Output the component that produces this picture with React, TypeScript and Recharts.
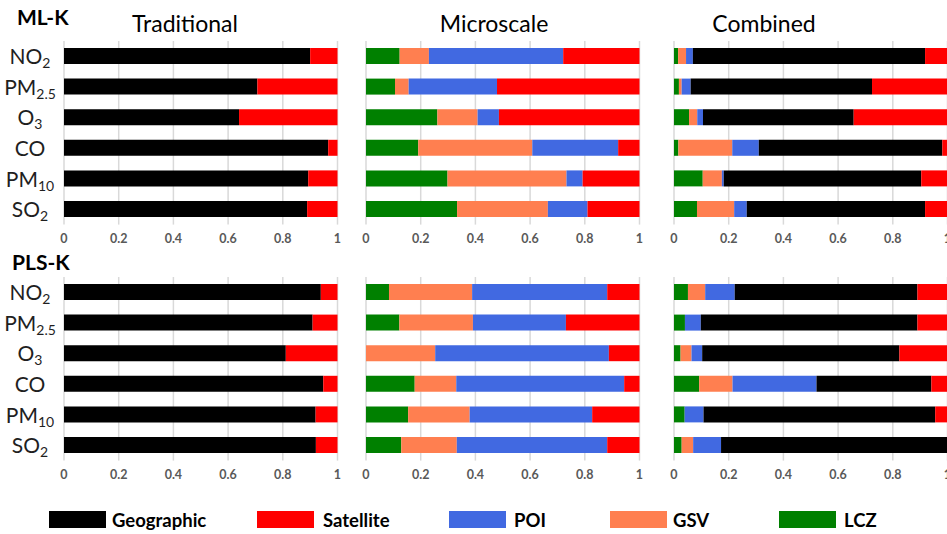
import React from 'react';
import { BarChart, Bar, XAxis, YAxis, CartesianGrid } from 'recharts';

// categories (top to bottom)
const pollutants = ['NO2', 'PM2.5', 'O3', 'CO', 'PM10', 'SO2'];
const pollutantBase = ['NO', 'PM', 'O', 'CO', 'PM', 'SO'];
const pollutantSub = ['2', '2.5', '3', '', '10', '2'];
const xTicks = [0, 0.2, 0.4, 0.6, 0.8, 1];

// ML-K
const mlTradGeographic = [0.9, 0.707, 0.64, 0.966, 0.893, 0.889];
const mlTradSatellite = [0.1, 0.293, 0.36, 0.034, 0.107, 0.111];

const mlMicroLCZ = [0.123, 0.106, 0.261, 0.191, 0.298, 0.333];
const mlMicroGSV = [0.107, 0.05, 0.147, 0.417, 0.435, 0.332];
const mlMicroPOI = [0.491, 0.323, 0.078, 0.314, 0.059, 0.145];
const mlMicroSatellite = [0.279, 0.521, 0.514, 0.078, 0.208, 0.19];

const mlCombLCZ = [0.015, 0.018, 0.055, 0.016, 0.105, 0.084];
const mlCombGSV = [0.029, 0.01, 0.03, 0.197, 0.07, 0.136];
const mlCombPOI = [0.025, 0.033, 0.021, 0.097, 0.007, 0.046];
const mlCombGeographic = [0.849, 0.663, 0.551, 0.671, 0.722, 0.652];
const mlCombSatellite = [0.082, 0.276, 0.343, 0.019, 0.096, 0.082];

// PLS-K
const plsTradGeographic = [0.939, 0.909, 0.811, 0.948, 0.92, 0.921];
const plsTradSatellite = [0.061, 0.091, 0.189, 0.052, 0.08, 0.079];

const plsMicroLCZ = [0.084, 0.122, 0, 0.178, 0.154, 0.129];
const plsMicroGSV = [0.304, 0.269, 0.253, 0.152, 0.225, 0.203];
const plsMicroPOI = [0.494, 0.34, 0.635, 0.614, 0.448, 0.55];
const plsMicroSatellite = [0.118, 0.269, 0.112, 0.056, 0.173, 0.118];

const plsCombLCZ = [0.051, 0.04, 0.024, 0.092, 0.039, 0.028];
const plsCombGSV = [0.063, 0, 0.04, 0.122, 0, 0.042];
const plsCombPOI = [0.108, 0.058, 0.039, 0.307, 0.069, 0.102];
const plsCombGeographic = [0.668, 0.792, 0.721, 0.42, 0.847, 0.828];
const plsCombSatellite = [0.11, 0.11, 0.176, 0.059, 0.045, 0];

const COLORS: Record<string, string> = {
  Geographic: '#000000',
  Satellite: '#FF0000',
  POI: '#4169E1',
  GSV: '#FF7F50',
  LCZ: '#008000',
};
const STACK_ORDER = ['LCZ', 'GSV', 'POI', 'Geographic', 'Satellite'];
const FONT = 'Lato, "Open Sans", sans-serif';

const build = (series: Record<string, number[]>) =>
  pollutants.map((name, i) => {
    const row: Record<string, any> = { name, idx: i };
    Object.keys(series).forEach((k) => (row[k] = series[k][i]));
    return row;
  });

const PollutantTick = (props: any) => {
  const { x, y, payload } = props;
  const i = pollutants.indexOf(payload.value);
  return (
    <text x={x - 26} y={y + 8} textAnchor="middle" fontSize={21} fill="#1f1f1f" fontFamily={FONT}>
      {pollutantBase[i]}
      {pollutantSub[i] && (
        <tspan fontSize={14} dy={4}>
          {pollutantSub[i]}
        </tspan>
      )}
    </text>
  );
};

const PLOT_W = 273.5;
const PLOT_H = 183.6;
const PAD = 12;
const AXIS_H = 30;

interface PanelProps {
  left: number;
  top: number;
  data: Record<string, any>[];
  showY?: boolean;
}

const Panel: React.FC<PanelProps> = ({ left, top, data, showY }) => {
  const keys = STACK_ORDER.filter((k) => k in data[0]);
  const yW = showY ? 64 : 0;
  const width = yW + PLOT_W + PAD * (showY ? 1 : 2);
  return (
    <div style={{ position: 'absolute', left: showY ? left - 64 : left - PAD, top }}>
      <BarChart
        width={width}
        height={PLOT_H + AXIS_H}
        data={data}
        layout="vertical"
        margin={{ top: 0, right: PAD, bottom: 0, left: showY ? 0 : PAD }}
        style={{ fontFamily: FONT }}
      >
        <CartesianGrid horizontal={false} stroke="#d9d9d9" strokeWidth={1.5} />
        <XAxis
          type="number"
          domain={[0, 1]}
          ticks={xTicks}
          interval={0}
          axisLine={false}
          tickLine={false}
          tickMargin={4}
          height={AXIS_H}
          tick={{ fontSize: 12.5, fontWeight: 'bold', fill: '#595959' }}
        />
        <YAxis
          type="category"
          dataKey="name"
          hide={!showY}
          width={yW}
          axisLine={false}
          tickLine={false}
          tick={<PollutantTick />}
          interval={0}
        />
        {keys.map((k) => (
          <Bar key={k} dataKey={k} stackId="a" fill={COLORS[k]} barSize={16} isAnimationActive={false} />
        ))}
      </BarChart>
    </div>
  );
};

const App: React.FC = () => {
  const mlTrad = build({ Geographic: mlTradGeographic, Satellite: mlTradSatellite });
  const mlMicro = build({ LCZ: mlMicroLCZ, GSV: mlMicroGSV, POI: mlMicroPOI, Satellite: mlMicroSatellite });
  const mlComb = build({
    LCZ: mlCombLCZ, GSV: mlCombGSV, POI: mlCombPOI, Geographic: mlCombGeographic, Satellite: mlCombSatellite,
  });
  const plsTrad = build({ Geographic: plsTradGeographic, Satellite: plsTradSatellite });
  const plsMicro = build({ LCZ: plsMicroLCZ, GSV: plsMicroGSV, POI: plsMicroPOI, Satellite: plsMicroSatellite });
  const plsComb = build({
    LCZ: plsCombLCZ, GSV: plsCombGSV, POI: plsCombPOI, Geographic: plsCombGeographic, Satellite: plsCombSatellite,
  });

  const cols = [64, 366.3, 674];
  const rows = [40.7, 276.7];

  const legend = [
    { k: 'Geographic', rx: 49, tx: 112 },
    { k: 'Satellite', rx: 257, tx: 323 },
    { k: 'POI', rx: 449, tx: 514 },
    { k: 'GSV', rx: 610, tx: 673 },
    { k: 'LCZ', rx: 779, tx: 844 },
  ];

  return (
    <div
      style={{
        position: 'absolute', left: 0, top: 0, width: 947, height: 534,
        overflow: 'hidden', background: '#fff', fontFamily: FONT,
      }}
    >
      <svg width={947} height={534} style={{ position: 'absolute', left: 0, top: 0 }}>
        <text x={17} y={25} fontSize={21} fontWeight="bold" fill="#000" fontFamily={FONT}>ML-K</text>
        <text x={12} y={270} fontSize={21} fontWeight="bold" fill="#000" fontFamily={FONT}>PLS-K</text>
        <text x={185} y={32} textAnchor="middle" fontSize={23} fill="#000" fontFamily={FONT}>Traditional</text>
        <text x={494} y={32} textAnchor="middle" fontSize={23} fill="#000" fontFamily={FONT}>Microscale</text>
        <text x={764} y={32} textAnchor="middle" fontSize={23} fill="#000" fontFamily={FONT}>Combined</text>
        {legend.map((l) => (
          <g key={l.k}>
            <rect x={l.rx} y={511} width={57} height={17} fill={COLORS[l.k]} />
            <text x={l.tx} y={526.5} fontSize={18.5} fontWeight="bold" fill="#000" fontFamily={FONT}>{l.k}</text>
          </g>
        ))}
      </svg>
      <Panel left={cols[0]} top={rows[0]} data={mlTrad} showY />
      <Panel left={cols[1]} top={rows[0]} data={mlMicro} />
      <Panel left={cols[2]} top={rows[0]} data={mlComb} />
      <Panel left={cols[0]} top={rows[1]} data={plsTrad} showY />
      <Panel left={cols[1]} top={rows[1]} data={plsMicro} />
      <Panel left={cols[2]} top={rows[1]} data={plsComb} />
    </div>
  );
};

export default App;
